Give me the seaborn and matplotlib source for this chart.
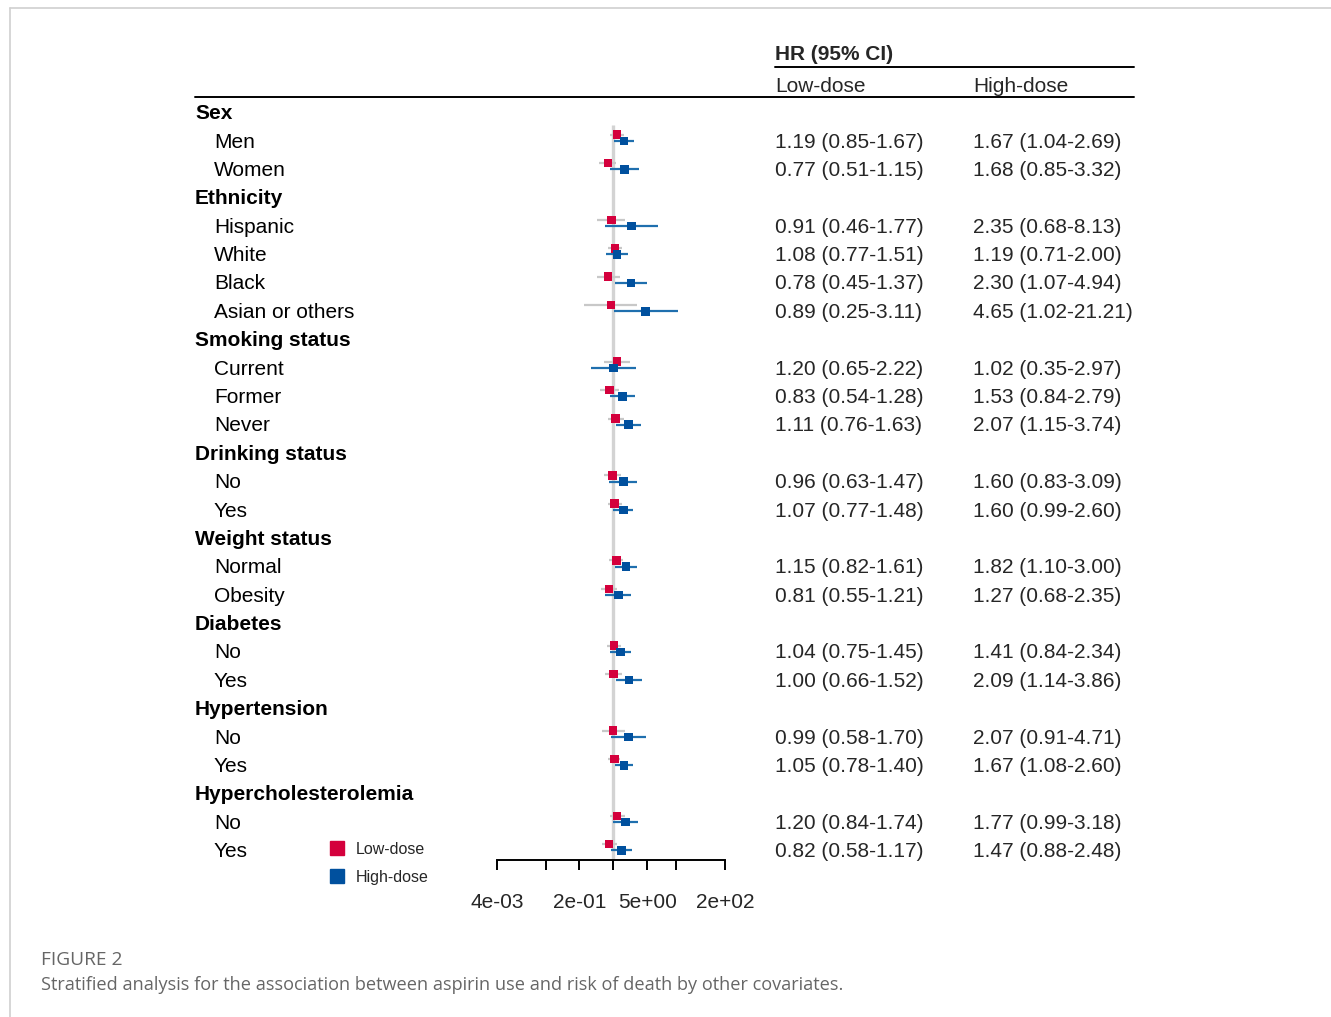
import matplotlib
matplotlib.use("Agg")
import matplotlib.pyplot as plt
from matplotlib.lines import Line2D
from matplotlib.transforms import blended_transform_factory
import seaborn as sns
import numpy as np
import pandas as pd

# --- data ---
group_names = ["Sex", "Ethnicity", "Smoking status", "Drinking status",
               "Weight status", "Diabetes", "Hypertension", "Hypercholesterolemia"]
group_levels = [["Men", "Women"],
                ["Hispanic", "White", "Black", "Asian or others"],
                ["Current", "Former", "Never"],
                ["No", "Yes"],
                ["Normal", "Obesity"],
                ["No", "Yes"],
                ["No", "Yes"],
                ["No", "Yes"]]

low_hr = [1.19, 0.77, 0.91, 1.08, 0.78, 0.89, 1.20, 0.83, 1.11, 0.96, 1.07,
          1.15, 0.81, 1.04, 1.00, 0.99, 1.05, 1.20, 0.82]
low_lo = [0.85, 0.51, 0.46, 0.77, 0.45, 0.25, 0.65, 0.54, 0.76, 0.63, 0.77,
          0.82, 0.55, 0.75, 0.66, 0.58, 0.78, 0.84, 0.58]
low_hi = [1.67, 1.15, 1.77, 1.51, 1.37, 3.11, 2.22, 1.28, 1.63, 1.47, 1.48,
          1.61, 1.21, 1.45, 1.52, 1.70, 1.40, 1.74, 1.17]

high_hr = [1.67, 1.68, 2.35, 1.19, 2.30, 4.65, 1.02, 1.53, 2.07, 1.60, 1.60,
           1.82, 1.27, 1.41, 2.09, 2.07, 1.67, 1.77, 1.47]
high_lo = [1.04, 0.85, 0.68, 0.71, 1.07, 1.02, 0.35, 0.84, 1.15, 0.83, 0.99,
           1.10, 0.68, 0.84, 1.14, 0.91, 1.08, 0.99, 0.88]
high_hi = [2.69, 3.32, 8.13, 2.00, 4.94, 21.21, 2.97, 2.79, 3.74, 3.09, 2.60,
           3.00, 2.35, 2.34, 3.86, 4.71, 2.60, 3.18, 2.48]

dose_names = ["Low-dose", "High-dose"]
x_ticks = [0.004, 0.04, 0.2, 1, 5, 20, 200]
x_ticklabels = ["4e-03", "", "2e-01", "", "5e+00", "", "2e+02"]

# --- build table rows ---
row_labels, row_is_header, level_rows = [], [], []
for name, levels in zip(group_names, group_levels):
    row_labels.append(name)
    row_is_header.append(True)
    for lev in levels:
        level_rows.append(len(row_labels))
        row_labels.append(lev)
        row_is_header.append(False)
level_rows = np.array(level_rows)

df = pd.concat([
    pd.DataFrame({"row": level_rows, "hr": low_hr, "lo": low_lo, "hi": low_hi,
                  "dose": dose_names[0]}),
    pd.DataFrame({"row": level_rows, "hr": high_hr, "lo": high_lo, "hi": high_hi,
                  "dose": dose_names[1]}),
], ignore_index=True)
df["ypos"] = df["row"] + np.where(df["dose"] == dose_names[0], -0.2, 0.02)

RED = "#d4003c"
BLUE = "#00509e"
BLUE_CI = "#1f6fae"
GRAY_CI = "#c8c8c8"

sns.set_theme(style="white")
plt.rcParams["font.family"] = ["Liberation Sans", "DejaVu Sans"]

W, H = 1331, 1017
fig = plt.figure(figsize=(W / 100, H / 100), dpi=100)

# forest axes: x from 497px to 725px, top at 0px, bottom spine at 860px
ax = fig.add_axes([497 / W, (H - 860) / H, 228 / W, 860 / H])
ax.set_xscale("log")
row_px = 28.38
ylim = ((860 - 112) / row_px, -112 / row_px)

# reference line at HR = 1
ax.vlines(1, 0.46, ylim[0], color="#d3d3d3", lw=2.4, zorder=1)

# confidence intervals
low = df[df["dose"] == dose_names[0]]
high = df[df["dose"] == dose_names[1]]
ax.hlines(low["ypos"], low["lo"], low["hi"], color=GRAY_CI, lw=1.6, zorder=2)
ax.hlines(high["ypos"], high["lo"], high["hi"], color=BLUE_CI, lw=1.6, zorder=2)

sns.scatterplot(data=df, x="hr", y="ypos", hue="dose",
                palette={dose_names[0]: RED, dose_names[1]: BLUE},
                marker="s", s=38, linewidth=0, legend=False, ax=ax, zorder=3)

ax.set_xlim(0.004, 200)
ax.set_ylim(*ylim)
ax.set_xlabel("")
ax.set_ylabel("")
ax.set_yticks([])
ax.set_xticks(x_ticks)
ax.set_xticklabels(x_ticklabels, fontsize=15)
ax.xaxis.set_minor_locator(matplotlib.ticker.NullLocator())
ax.tick_params(axis="x", bottom=True, length=7.5, width=1.4, color="black",
               direction="out", pad=16.5)
for side in ["left", "top", "right"]:
    ax.spines[side].set_visible(False)
ax.spines["bottom"].set_color("black")
ax.spines["bottom"].set_linewidth(1.4)
ax.patch.set_alpha(0)

# table text
tr = blended_transform_factory(fig.transFigure, ax.transData)
dy = 0.06
for i, (lab, hdr) in enumerate(zip(row_labels, row_is_header)):
    ax.text((195 if hdr else 214) / W, i + dy, lab, transform=tr, va="center",
            ha="left", fontsize=15, fontweight="bold" if hdr else "normal",
            color="black", clip_on=False)

for r, a, b, c in zip(level_rows, low_hr, low_lo, low_hi):
    ax.text(775 / W, r + dy, f"{a:.2f} ({b:.2f}-{c:.2f})", transform=tr,
            va="center", ha="left", fontsize=15, clip_on=False)
for r, a, b, c in zip(level_rows, high_hr, high_lo, high_hi):
    ax.text(973 / W, r + dy, f"{a:.2f} ({b:.2f}-{c:.2f})", transform=tr,
            va="center", ha="left", fontsize=15, clip_on=False)

# column headers
ax.text(775 / W, (54 - 112) / row_px, "HR (95% CI)", transform=tr, va="center",
        ha="left", fontsize=15, fontweight="bold", clip_on=False)
ax.text(775 / W, (86 - 112) / row_px, dose_names[0], transform=tr, va="center",
        ha="left", fontsize=15, clip_on=False)
ax.text(973 / W, (86 - 112) / row_px, dose_names[1], transform=tr, va="center",
        ha="left", fontsize=15, clip_on=False)
fig.add_artist(Line2D([775 / W, 1134 / W], [1 - 67 / H, 1 - 67 / H],
                      transform=fig.transFigure, color="black", lw=1.4))
fig.add_artist(Line2D([195 / W, 1134 / W], [1 - 97 / H, 1 - 97 / H],
                      transform=fig.transFigure, color="black", lw=1.4))

# legend
handles = [Line2D([], [], marker="s", ls="", color=RED, markersize=10.5),
           Line2D([], [], marker="s", ls="", color=BLUE, markersize=10.5)]
fig.legend(handles, dose_names, loc="upper left",
           bbox_to_anchor=(329 / W, 1 - 842 / H), frameon=False,
           fontsize=11.5, handlelength=1.0, handletextpad=0.7,
           labelspacing=0.8, borderpad=0, borderaxespad=0)

# page frame
fig.add_artist(Line2D([10 / W, 1], [1 - 8 / H, 1 - 8 / H],
                      transform=fig.transFigure, color="#d0d0d0", lw=1.2))
fig.add_artist(Line2D([10 / W, 10 / W], [0, 1 - 8 / H],
                      transform=fig.transFigure, color="#d0d0d0", lw=1.2))

# caption
fig.text(41 / W, 1 - 960 / H, "FIGURE 2", va="center", ha="left",
         fontsize=13.8, color="#666666", family=["Open Sans", "DejaVu Sans"])
fig.text(41 / W, 1 - 985 / H,
         "Stratified analysis for the association between aspirin use and risk of death by other covariates.",
         va="center", ha="left", fontsize=13.1, color="#666666",
         family=["Open Sans", "DejaVu Sans"])

fig.savefig("out.png", dpi=100)
